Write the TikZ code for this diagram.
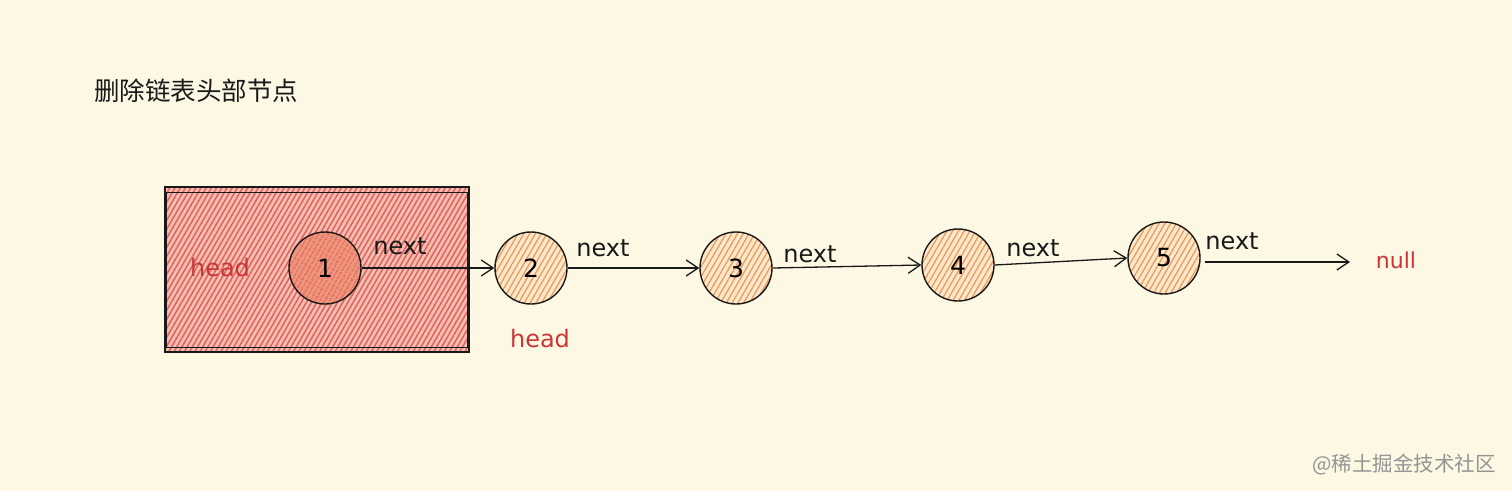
\documentclass[tikz,border=0pt]{standalone}
\usepackage{fontspec}
\setmainfont{DejaVu Sans}
\newfontfamily\cjk{Noto Sans CJK SC}
\usetikzlibrary{arrows.meta,patterns.meta}
\definecolor{bg}{RGB}{253,248,227}
\definecolor{boxfill}{RGB}{245,190,178}
\definecolor{boxhatch}{RGB}{226,98,92}
\definecolor{nodefill}{RGB}{252,232,205}
\definecolor{nodehatch}{RGB}{238,155,90}
\definecolor{firstfill}{RGB}{238,150,125}
\definecolor{redtext}{RGB}{200,55,55}
\definecolor{ink}{RGB}{25,25,25}
\tikzset{
  listnode/.style={circle,draw=ink,line width=1.4pt,minimum size=72pt,inner sep=0pt,
    preaction={fill=nodefill},
    pattern={Lines[angle=60,distance=5pt,line width=1.3pt]},pattern color=nodehatch,
    font=\fontsize{25}{27}\selectfont},
  firstnode/.style={circle,draw=ink,line width=1.4pt,minimum size=72pt,inner sep=0pt,
    preaction={fill=firstfill},
    pattern={Lines[angle=60,distance=4pt,line width=1.4pt]},pattern color=boxhatch,
    font=\fontsize{25}{27}\selectfont},
  lbl/.style={font=\fontsize{24}{26}\selectfont,text=ink,inner sep=0pt},
  redlbl/.style={font=\fontsize{24}{26}\selectfont,text=redtext,inner sep=0pt},
  link/.style={draw=ink,line width=1.3pt,-{Straight Barb[length=12pt,width=16pt,line width=1.3pt]}},
}
\begin{document}
\begin{tikzpicture}[x=1pt,y=-1pt]
\fill[bg] (0,0) rectangle (1512,491);
\useasboundingbox (0,0) rectangle (1512,491);
% title
\node[font=\cjk\fontsize{25.5}{28}\selectfont,text=ink,anchor=west,inner sep=0pt] (title) at (94,91) {删除链表头部节点};
% red box
\node[draw=ink,line width=1.6pt,minimum width=304pt,minimum height=165pt,inner sep=0pt,
  preaction={fill=boxfill},
  pattern={Lines[angle=60,distance=4.5pt,line width=1.5pt]},pattern color=boxhatch] (box) at (317,269.5) {};
\draw[ink,line width=1.3pt] ([xshift=2pt,yshift=-6pt]box.north west) rectangle ([xshift=-2pt,yshift=5pt]box.south east);
\node[redlbl] (h1) at (220,268) {head};
% nodes
\node[firstnode] (c1) at (325,268) {1};
\node[listnode] (c2) at (531,268) {2};
\node[listnode] (c3) at (736,268) {3};
\node[listnode] (c4) at (958,265) {4};
\node[listnode] (c5) at (1164,258) {5};
\node[redlbl,font=\fontsize{22}{24}\selectfont] (null) at (1396,260) {null};
\node[redlbl] (h2) at (540,339) {head};
% links
\draw[link] (c1.east) -- (c2.west);
\draw[link] (c2.east) -- (c3.west);
\draw[link] (c3.east) -- (c4.west);
\draw[link] (c4.east) -- (c5.west);
\coordinate (nullend) at (1350,262);
\draw[link] ([xshift=4pt,yshift=-4pt]c5.east) -- (nullend);
% next labels
\node[lbl] (n1) at (400,246) {next};
\node[lbl] (n2) at (603,248) {next};
\node[lbl] (n3) at (810,254) {next};
\node[lbl] (n4) at (1033,248) {next};
\node[lbl] (n5) at (1232,241) {next};
% watermark
\node[font=\cjk\fontsize{20.5}{22}\selectfont,text=black!42,anchor=east,inner sep=0pt] (wm) at (1496,465) {@稀土掘金技术社区};
\end{tikzpicture}
\end{document}
